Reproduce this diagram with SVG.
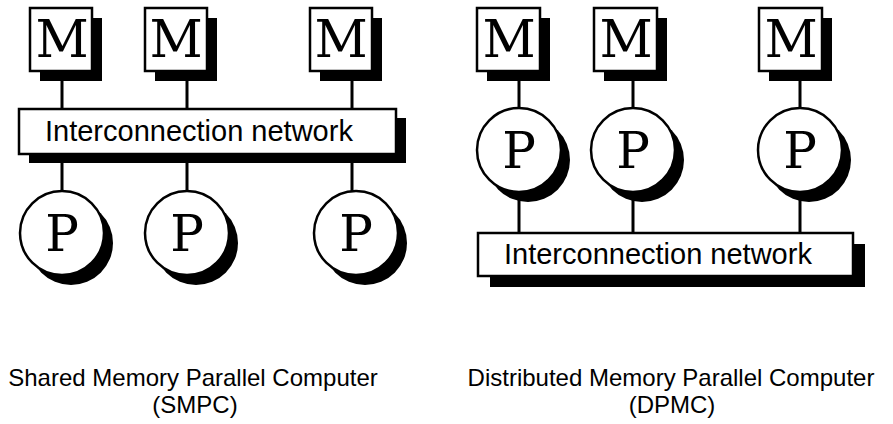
<svg xmlns="http://www.w3.org/2000/svg" width="893" height="424" viewBox="0 0 893 424">
<style>
.bg{fill:#fff}
.box{fill:#fff;stroke:#000;stroke-width:2.5}
.sh{fill:#000;stroke:none}
.wire{stroke:#000;stroke-width:3;fill:none}
.glyph{font-family:"DejaVu Serif","Liberation Serif",serif;fill:#000;text-anchor:middle}
.gm{font-size:52px}
.gp{font-size:50px}
.net{font-family:"Liberation Sans",Arial,sans-serif;font-size:29px;fill:#000}
.cap{font-family:"Liberation Sans",Arial,sans-serif;font-size:24px;fill:#000;text-anchor:middle}
</style>
<rect class="bg" x="0" y="0" width="893" height="424"/>
<g id="connectors">
  <line class="wire" x1="62" y1="71" x2="62" y2="109"/>
  <line class="wire" x1="187" y1="81" x2="187" y2="109"/>
  <line class="wire" x1="352" y1="81" x2="352" y2="109"/>
  <line class="wire" x1="62" y1="163" x2="62" y2="192"/>
  <line class="wire" x1="187" y1="163" x2="187" y2="192"/>
  <line class="wire" x1="352" y1="163" x2="352" y2="192"/>
  <line class="wire" x1="519" y1="81" x2="519" y2="108"/>
  <line class="wire" x1="633" y1="81" x2="633" y2="108"/>
  <line class="wire" x1="800" y1="81" x2="800" y2="108"/>
  <line class="wire" x1="519" y1="192" x2="519" y2="233"/>
  <line class="wire" x1="633" y1="192" x2="633" y2="233"/>
  <line class="wire" x1="800" y1="192" x2="800" y2="233"/>
</g>
<g id="smpc-m1"><rect class="sh" x="40" y="18" width="62" height="63"/><rect class="box" x="30" y="8" width="62" height="63"/><text class="glyph gm" x="62" y="57">M</text></g>
<g id="smpc-m2"><rect class="sh" x="155" y="18" width="62" height="63"/><rect class="box" x="145" y="8" width="62" height="63"/><text class="glyph gm" x="176" y="57">M</text></g>
<g id="smpc-m3"><rect class="sh" x="320" y="18" width="62" height="63"/><rect class="box" x="310" y="8" width="62" height="63"/><text class="glyph gm" x="341" y="57">M</text></g>
<g id="smpc-network"><rect class="sh" x="29" y="118" width="377" height="45"/><rect class="box" x="19" y="109" width="377" height="45"/><text class="net" x="45" y="141">Interconnection network</text></g>
<g id="smpc-p1"><circle class="sh" cx="71" cy="243" r="42"/><circle class="box" cx="62" cy="233" r="42"/><text class="glyph gp" x="62" y="251">P</text></g>
<g id="smpc-p2"><circle class="sh" cx="196" cy="243" r="42"/><circle class="box" cx="187" cy="233" r="42"/><text class="glyph gp" x="187" y="251">P</text></g>
<g id="smpc-p3"><circle class="sh" cx="365" cy="243" r="42"/><circle class="box" cx="356" cy="233" r="42"/><text class="glyph gp" x="356" y="251">P</text></g>
<g id="dpmc-m1"><rect class="sh" x="487" y="18" width="63" height="63"/><rect class="box" x="477" y="8" width="63" height="63"/><text class="glyph gm" x="509" y="57">M</text></g>
<g id="dpmc-m2"><rect class="sh" x="604" y="18" width="63" height="63"/><rect class="box" x="594" y="8" width="63" height="63"/><text class="glyph gm" x="626" y="57">M</text></g>
<g id="dpmc-m3"><rect class="sh" x="769" y="18" width="63" height="63"/><rect class="box" x="759" y="8" width="63" height="63"/><text class="glyph gm" x="791" y="57">M</text></g>
<g id="dpmc-p1"><circle class="sh" cx="528" cy="160" r="42"/><circle class="box" cx="519" cy="150" r="42"/><text class="glyph gp" x="519" y="168">P</text></g>
<g id="dpmc-p2"><circle class="sh" cx="642" cy="160" r="42"/><circle class="box" cx="633" cy="150" r="42"/><text class="glyph gp" x="633" y="168">P</text></g>
<g id="dpmc-p3"><circle class="sh" cx="809" cy="160" r="42"/><circle class="box" cx="800" cy="150" r="42"/><text class="glyph gp" x="800" y="168">P</text></g>
<g id="dpmc-network"><rect class="sh" x="490" y="244" width="375" height="43"/><rect class="box" x="478" y="233" width="375" height="43"/><text class="net" x="504" y="264">Interconnection network</text></g>
<g id="captions">
  <text class="cap" x="193" y="386">Shared Memory Parallel Computer</text>
  <text class="cap" x="195" y="413">(SMPC)</text>
  <text class="cap" x="671" y="386">Distributed Memory Parallel Computer</text>
  <text class="cap" x="672" y="413">(DPMC)</text>
</g>
</svg>
